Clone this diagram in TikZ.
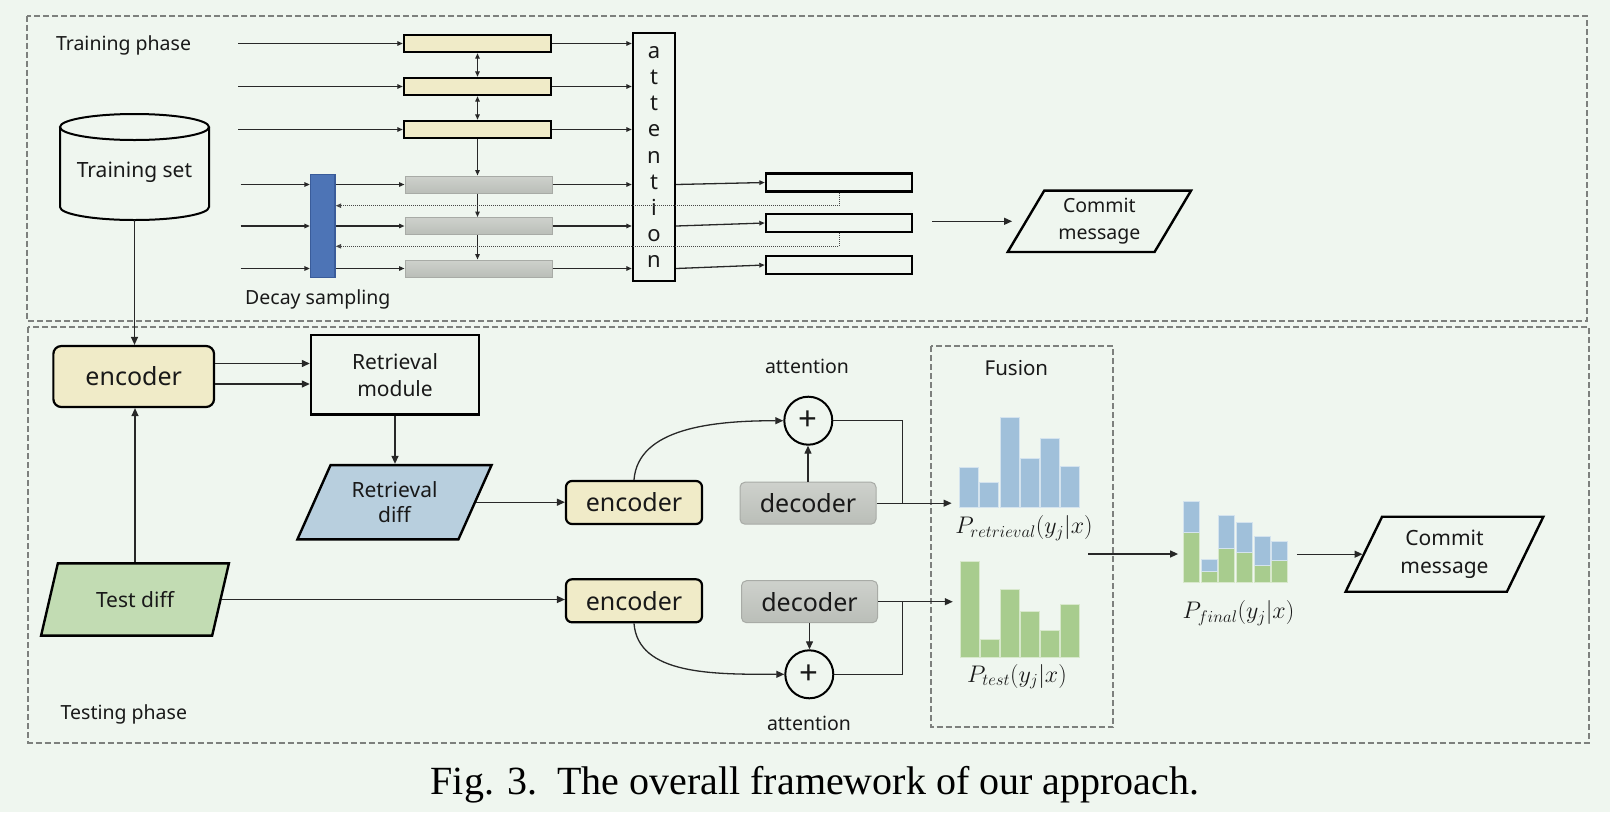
\RequirePackage{fix-cm}
\documentclass[tikz,border=0pt]{standalone}
\usepackage{fontspec}
\newfontfamily\dsans{Noto Sans}
\newfontfamily\capfont{Liberation Serif}
\usetikzlibrary{arrows.meta,shapes.geometric,calc}
\definecolor{bg}{RGB}{239,246,239}
\definecolor{yel}{RGB}{240,235,200}
\definecolor{gtop}{RGB}{206,209,204}
\definecolor{gbot}{RGB}{186,190,184}
\definecolor{grayedge}{RGB}{168,171,166}
\definecolor{bluebar}{RGB}{77,116,182}
\definecolor{bluebaredge}{RGB}{58,92,154}
\definecolor{rdiffc}{RGB}{184,207,222}
\definecolor{tdiffc}{RGB}{194,220,179}
\definecolor{hblue}{RGB}{160,192,218}
\definecolor{hgreen}{RGB}{168,204,142}
\definecolor{dashc}{RGB}{125,128,125}
\definecolor{linec}{RGB}{40,40,40}
\definecolor{txt}{RGB}{25,25,25}
\begin{document}
\begin{tikzpicture}[x=1pt,y=-1pt,
  every node/.style={text=txt},
  con/.style={draw=linec, line width=1.3pt},
  arr/.style={con, -{Triangle[length=8pt,width=7pt]}},
  sarr/.style={con, -{Triangle[length=5.5pt,width=4.5pt]}},
  dbl/.style={con, {Triangle[length=5.5pt,width=4.5pt]}-{Triangle[length=5.5pt,width=4.5pt]}},
  dotarr/.style={draw=linec!85, line width=0.9pt, dash pattern=on 1pt off 1pt, -{Triangle[length=5.5pt,width=4.5pt]}},
  border/.style={draw=dashc, line width=1.8pt, dash pattern=on 6pt off 3pt},
  ybar/.style={draw=black, line width=2.4pt, fill=yel, minimum width=147pt, minimum height=17pt, inner sep=0pt},
  gbar/.style={draw=grayedge, line width=1pt, top color=gtop, bottom color=gbot, minimum width=147pt, minimum height=17pt, inner sep=0pt},
  obar/.style={draw=black, line width=2.4pt, minimum width=146pt, minimum height=18pt, inner sep=0pt},
  encbox/.style={draw=black, line width=2.2pt, fill=yel, rounded corners=6pt, minimum width=136pt, minimum height=43pt, inner sep=0pt, font=\dsans\fontsize{25}{30}\selectfont},
  decbox/.style={draw=grayedge, line width=1pt, rounded corners=5pt, top color=gtop, bottom color=gbot, minimum width=136pt, minimum height=42pt, inner sep=0pt, font=\dsans\fontsize{25}{30}\selectfont},
  para/.style={trapezium, trapezium stretches=true, draw=black, line width=2.4pt, inner sep=0pt, align=center},
  lbl/.style={font=\dsans\fontsize{19.5}{24}\selectfont, inner sep=0pt},
  plus/.style={circle, draw=black, line width=2pt, minimum size=48pt, inner sep=0pt, font=\dsans\fontsize{33}{33}\selectfont},
  mlbl/.style={font=\fontsize{24}{28}\selectfont, inner sep=0pt},
  hb/.style={draw=white!55!hblue, line width=0.8pt, fill=hblue},
  hg/.style={draw=white!55!hgreen, line width=0.8pt, fill=hgreen},
]
\useasboundingbox (0,0) rectangle (1610,812);
\fill[bg] (0,0) rectangle (1610,812);

% frames
\draw[border] (27,15.7) rectangle (1587,320.7);
\draw[border] (28.3,327) rectangle (1589,742.7);
\draw[border] (930.7,346) rectangle (1113.3,727);

% ---------------- training phase ----------------
\node[lbl, anchor=west] (trp) at (55.8,45.7) {Training phase};

% cylinder
\draw[line width=2pt, draw=black] (60,127) -- (60,207)
  .. controls (60,214.2) and (93.4,220) .. (134.5,220)
  .. controls (175.6,220) and (209,214.2) .. (209,207) -- (209,127);
\draw[line width=2pt, draw=black] (134.5,127) ellipse [x radius=74.5pt, y radius=13pt];
\node[font=\dsans\fontsize{21}{25}\selectfont, minimum width=149pt, minimum height=106pt, inner sep=0pt] (ts) at (134.5,172) {Training set};
\coordinate (tsb) at (134.5,220);

\node[ybar] (y1) at (477.5,43.5) {};
\node[ybar] (y2) at (477.5,86.5) {};
\node[ybar] (y3) at (477.5,129.5) {};
\node[gbar] (g1) at (478.5,184.5) {};
\node[gbar] (g2) at (478.5,226) {};
\node[gbar] (g3) at (478.5,268.5) {};
\node[draw=bluebaredge, line width=1.5pt, fill=bluebar, minimum width=24.3pt, minimum height=103pt, inner sep=0pt] (blue) at (322.8,225.8) {};
\node[lbl, anchor=west] (dsl) at (245,299) {Decay sampling};

\node[draw=black, line width=2.4pt, minimum width=42pt, minimum height=248pt, inner sep=0pt, align=center, font=\dsans\fontsize{22}{26.2}\selectfont] (att) at (654,157) {a\\t\\t\\e\\n\\t\\i\\o\\n};

\node[obar] (o1) at (839,182.5) {};
\node[obar] (o2) at (839,223) {};
\node[obar] (o3) at (839,265) {};

\node[para, trapezium left angle=59.4, trapezium right angle=120.6, minimum width=183.3pt, minimum height=61.3pt, font=\dsans\fontsize{19.5}{26.7}\selectfont] (cm1) at (1099.4,221.3) {Commit\\message};

\coordinate (inA) at (238,0);
\coordinate (inB) at (240.7,0);
\foreach \b in {y1,y2,y3} {
  \draw[sarr] (inA |- \b) -- (\b.west);
  \draw[sarr] (\b.east) -- (att.west |- \b);
}
\foreach \b/\o in {g1/o1,g2/o2,g3/o3} {
  \draw[sarr] (inB |- \b) -- (blue.west |- \b);
  \draw[sarr] (blue.east |- \b) -- (\b.west);
  \draw[sarr] (\b.east) -- (att.west |- \b);
  \draw[sarr] (att.east |- \b) -- (\o.west);
}
\draw[dbl] (y1.south) -- (y2.north);
\draw[dbl] (y2.south) -- (y3.north);
\draw[sarr] (y3.south) -- (y3.south |- g1.north);
\draw[sarr] (y3.south |- g1.south) -- (y3.south |- g2.north);
\draw[sarr] (y3.south |- g2.south) -- (y3.south |- g3.north);
\coordinate (dA) at (0,205.7);
\coordinate (dB) at (0,246.3);
\draw[dotarr] (o1.south) |- (blue.east |- dA);
\draw[dotarr] (o2.south) |- (blue.east |- dB);
\draw[arr, shorten <=19pt, shorten >=12.5pt] (o2.east |- cm1.west) -- (cm1.west);

% ---------------- testing phase ----------------
\node[encbox, minimum width=160.7pt, minimum height=61pt, rounded corners=8pt] (enc) at (133.7,376.5) {encoder};
\node[draw=black, line width=2.4pt, minimum width=168pt, minimum height=79.3pt, inner sep=0pt, align=center, font=\dsans\fontsize{21}{27}\selectfont] (rm) at (395,374.7) {Retrieval\\module};
\node[para, fill=rdiffc, trapezium left angle=62, trapezium right angle=118, minimum width=194.4pt, minimum height=74.3pt, font=\dsans\fontsize{21}{25.7}\selectfont] (rdiff) at (394.5,502.2) {Retrieval\\diff};
\node[para, fill=tdiffc, trapezium left angle=62.5, trapezium right angle=117.5, minimum width=188.6pt, minimum height=72.3pt, font=\dsans\fontsize{21}{25}\selectfont] (td) at (135,599.5) {Test diff};
\node[lbl, anchor=west] (tsp) at (60.5,714) {Testing phase};

\node[encbox] (enc2) at (634,502.5) {encoder};
\node[encbox] (enc3) at (634,600.8) {encoder};
\node[decbox] (dec1) at (808,503.2) {decoder};
\node[decbox] (dec2) at (809.5,601.7) {decoder};
\node[plus] (c1) at (808.3,420.7) {+};
\node[plus] (c2) at (809.3,674.3) {+};
\node[lbl] (at1) at (807,366) {attention};
\node[lbl] (at2) at (809,723.5) {attention};
\node[font=\dsans\fontsize{20.5}{24}\selectfont, inner sep=0pt] (fus) at (1016.4,368.3) {Fusion};

% histograms
\node[inner sep=0pt, minimum width=120pt, minimum height=90pt] (h1) at (1019.3,462) {};
\node[inner sep=0pt, minimum width=118pt, minimum height=96pt] (h2) at (1019.5,610) {};
\node[inner sep=0pt, minimum width=104pt, minimum height=82pt] (hf) at (1235.3,542) {};
\foreach \x/\t in {959.3/467.3, 979.3/482.7, 1000/417.7, 1020/458.7, 1040.7/438.7, 1060.7/466}
  \draw[hb] (\x,507.3) rectangle (\x+19,\t);
\foreach \x/\t in {960.7/561.7, 980.7/639.3, 1000.7/589.3, 1020.5/611.7, 1040.5/630, 1060.5/604}
  \draw[hg] (\x,657.7) rectangle (\x+18.5,\t);
\foreach \x/\g/\b in {1183.3/532.7/501, 1201/571.7/559.3, 1218.3/548.3/515.7, 1236/552.7/522.7, 1254/565.7/536, 1271.7/560/541.7} {
  \draw[hg] (\x,582.7) rectangle (\x+16,\g);
  \draw[hb] (\x,\g) rectangle (\x+16,\b);
}
\node[mlbl] (lr) at (1024,528.3) {$P_{retrieval}(y_j|x)$};
\node[mlbl] (lt) at (1017,676.7) {$P_{test}(y_j|x)$};
\node[mlbl] (lf) at (1238.5,613.3) {$P_{final}(y_j|x)$};

\node[para, trapezium left angle=62.2, trapezium right angle=117.8, minimum width=197.9pt, minimum height=75pt, font=\dsans\fontsize{21}{28.3}\selectfont] (cm2) at (1444.5,554.2) {Commit\\message};

% connectors
\draw[arr] (tsb) -- (tsb |- enc.north);
\coordinate (ya) at (0,363.5);
\coordinate (yb) at (0,384);
\draw[arr] (enc.east |- ya) -- (rm.west |- ya);
\draw[arr] (enc.east |- yb) -- (rm.west |- yb);
\draw[arr] (rm.south) -- (rm.south |- rdiff.north);
\draw[arr] (rdiff.east) -- (rdiff.east -| enc2.west);
\draw[arr] (td.north) -- (td.north |- enc.south);
\draw[arr] (td.east) -- (td.east -| enc3.west);
\draw[arr] (enc2.north) .. controls +(4,-52) and +(-70,0) .. (c1.west);
\draw[arr] (enc3.south) .. controls +(4,52) and +(-70,0) .. (c2.west);
\draw[arr] (dec1.north) -- (dec1.north |- c1.south);
\draw[arr] (dec2.south) -- (dec2.south |- c2.north);
\coordinate (jx) at (902.7,0);
\draw[con] (c1.east) -| (jx |- dec1.east);
\draw[con] (c2.east) -| (jx |- dec2.east);
\draw[arr, shorten >=7.5pt] (dec1.east) -- (dec1.east -| h1.west);
\draw[arr, shorten >=7.5pt] (dec2.east) -- (dec2.east -| h2.west);
\coordinate (fst) at (1088.3,554);
\draw[arr, shorten >=5pt] (fst) -- (fst -| hf.west);
\draw[arr, shorten <=9.4pt] (hf.east |- cm2.west) -- (cm2.west);

% caption
\node[font=\capfont\fontsize{40}{44}\selectfont, text=black] (cap) at (815,785) {Fig. 3.\hspace{0.5em}The overall framework of our approach.};
\end{tikzpicture}
\end{document}
